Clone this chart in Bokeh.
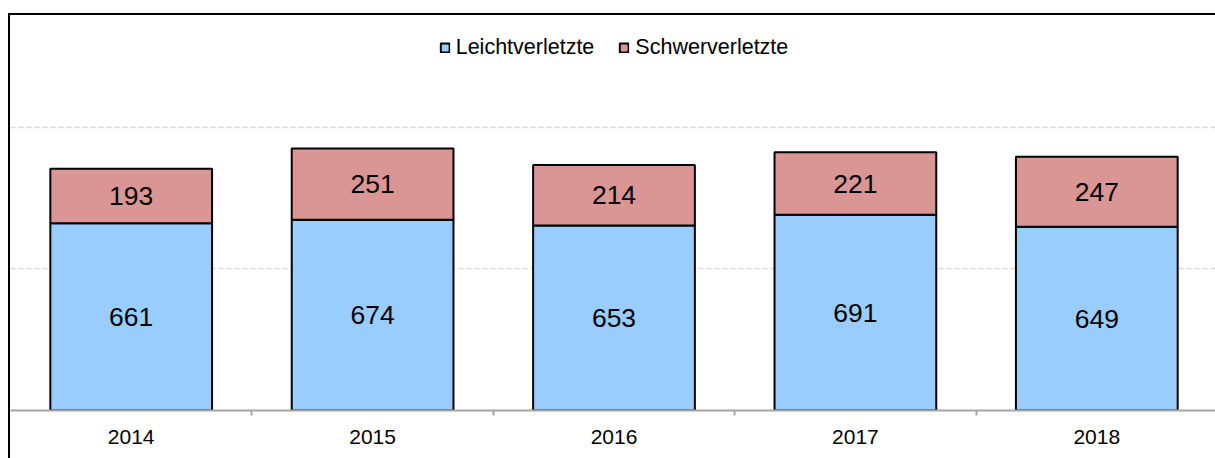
from bokeh.plotting import figure
from bokeh.models import (FactorRange, Range1d, LinearAxis, FixedTicker,
                          SingleIntervalTicker, LabelSet, ColumnDataSource)
from bokeh.core.properties import value
from bokeh.embed import file_html
from bokeh.resources import INLINE

years = ["2014", "2015", "2016", "2017", "2018"]
leicht = [661, 674, 653, 691, 649]
schwer = [193, 251, 214, 221, 247]
series_names = ["Leichtverletzte", "Schwerverletzte"]
colors = ["#99CCFF", "#DA9694"]
Y_MAX = 1395
GRID_STEP = 500

total = [a + b for a, b in zip(leicht, schwer)]
src = ColumnDataSource(dict(
    year=years, leicht=leicht, schwer=schwer, total=total,
    zero=[0] * len(years),
    mid_l=[a / 2 for a in leicht],
    mid_s=[a + b / 2 for a, b in zip(leicht, schwer)],
    lab_l=[str(v) for v in leicht],
    lab_s=[str(v) for v in schwer],
))

FONT = "Liberation Sans"

p = figure(x_range=FactorRange(*years), y_range=Range1d(0, Y_MAX),
           width=1207, height=445, output_backend="svg", toolbar_location=None,
           x_axis_location=None, y_axis_location=None,
           min_border_left=0, min_border_right=0, min_border_top=0,
           min_border_bottom=50, outline_line_color=None)
p.styles = {"border-left": "2px solid black", "border-top": "2px solid black",
            "margin-left": "8px", "margin-top": "13px"}

p.xgrid.visible = False
p.ygrid.ticker = SingleIntervalTicker(interval=GRID_STEP, num_minor_ticks=0)
p.ygrid.grid_line_color = "#D9D9D9"
p.ygrid.grid_line_width = 1.5
p.ygrid.grid_line_dash = "5 3"

p.vbar(x="year", bottom="zero", top="leicht", width=0.67, source=src,
       fill_color=colors[0], line_color="black", line_width=2,
       legend_label=series_names[0])
p.vbar(x="year", bottom="leicht", top="total", width=0.67, source=src,
       fill_color=colors[1], line_color="black", line_width=2,
       legend_label=series_names[1])

for ycol, tcol in (("mid_l", "lab_l"), ("mid_s", "lab_s")):
    p.add_layout(LabelSet(x="year", y=ycol, text=tcol, source=src,
                          text_align="center", text_baseline="middle",
                          text_font=value(FONT), text_font_size=value("26.5px"),
                          text_color="black"))

centers = [i + 0.5 for i in range(len(years))]
bounds = [i for i in range(1, len(years))]
xaxis = LinearAxis(ticker=FixedTicker(ticks=centers, minor_ticks=bounds),
                   major_label_overrides={c: y for c, y in zip(centers, years)})
xaxis.axis_line_color = "#A6A6A6"
xaxis.axis_line_width = 2
xaxis.major_tick_out = 0
xaxis.major_tick_in = 0
xaxis.minor_tick_out = 5
xaxis.minor_tick_in = 0
xaxis.minor_tick_line_color = "#A6A6A6"
xaxis.minor_tick_line_width = 2
xaxis.major_label_text_font = FONT
xaxis.major_label_text_font_size = "21px"
xaxis.major_label_text_color = "black"
xaxis.major_label_standoff = 14
p.add_layout(xaxis, "below")

lg = p.legend[0]
lg.location = "top_center"
lg.orientation = "horizontal"
lg.border_line_color = None
lg.background_fill_alpha = 0
lg.margin = 20
lg.padding = 0
lg.spacing = 24
lg.glyph_width = 11
lg.glyph_height = 11
lg.label_standoff = 6
lg.label_text_font = FONT
lg.label_text_font_size = "21.5px"
lg.label_text_color = "black"

open("out.html", "w").write(file_html(p, INLINE))
